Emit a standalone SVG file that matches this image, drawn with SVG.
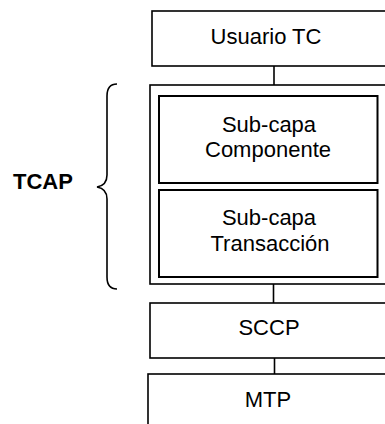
<svg xmlns="http://www.w3.org/2000/svg" width="385" height="424" viewBox="0 0 385 424">
  <style>
    .box { fill: #ffffff; stroke: #000000; stroke-width: 1.6; }
    .inner { fill: #ffffff; stroke: #000000; stroke-width: 2; }
    .lbl { font-family: "Liberation Sans", Arial, sans-serif; font-size: 22px; fill: #000000; text-anchor: middle; }
    .bold { font-weight: bold; }
    .wire { stroke: #000000; stroke-width: 1.6; fill: none; }
  </style>
  <rect width="385" height="424" fill="#ffffff"/>

  <!-- connectors between stacked layers -->
  <g id="connectors">
    <line class="wire" x1="274" y1="66" x2="274" y2="85"/>
    <line class="wire" x1="273.5" y1="284" x2="273.5" y2="303"/>
    <line class="wire" x1="274.5" y1="358" x2="274.5" y2="374"/>
  </g>

  <g id="usuario-tc">
    <rect class="box" x="152" y="11" width="250" height="55"/>
    <text class="lbl" x="266" y="44">Usuario TC</text>
  </g>

  <g id="tcap">
    <rect class="box" x="150" y="85" width="250" height="199"/>
    <path class="wire" d="M117,84 C110,84 107,88 107,96 L107,175 C107,182 103,186 97,187 C103,188 107,192 107,199 L107,277 C107,285 110,289 117,289"/>
    <text class="lbl bold" x="43" y="189">TCAP</text>
  </g>

  <g id="sub-capa-componente">
    <rect class="inner" x="159" y="96" width="218.5" height="87"/>
    <text class="lbl" x="269" y="132">Sub-capa</text>
    <text class="lbl" x="268" y="157">Componente</text>
  </g>

  <g id="sub-capa-transaccion">
    <rect class="inner" x="159" y="190" width="218.5" height="87"/>
    <text class="lbl" x="269" y="225">Sub-capa</text>
    <text class="lbl" x="270" y="251">Transacción</text>
  </g>

  <g id="sccp">
    <rect class="box" x="150" y="303" width="250" height="55"/>
    <text class="lbl" x="269" y="335">SCCP</text>
  </g>

  <g id="mtp">
    <rect class="box" x="148" y="374" width="252" height="60"/>
    <text class="lbl" x="268" y="407">MTP</text>
  </g>
</svg>
